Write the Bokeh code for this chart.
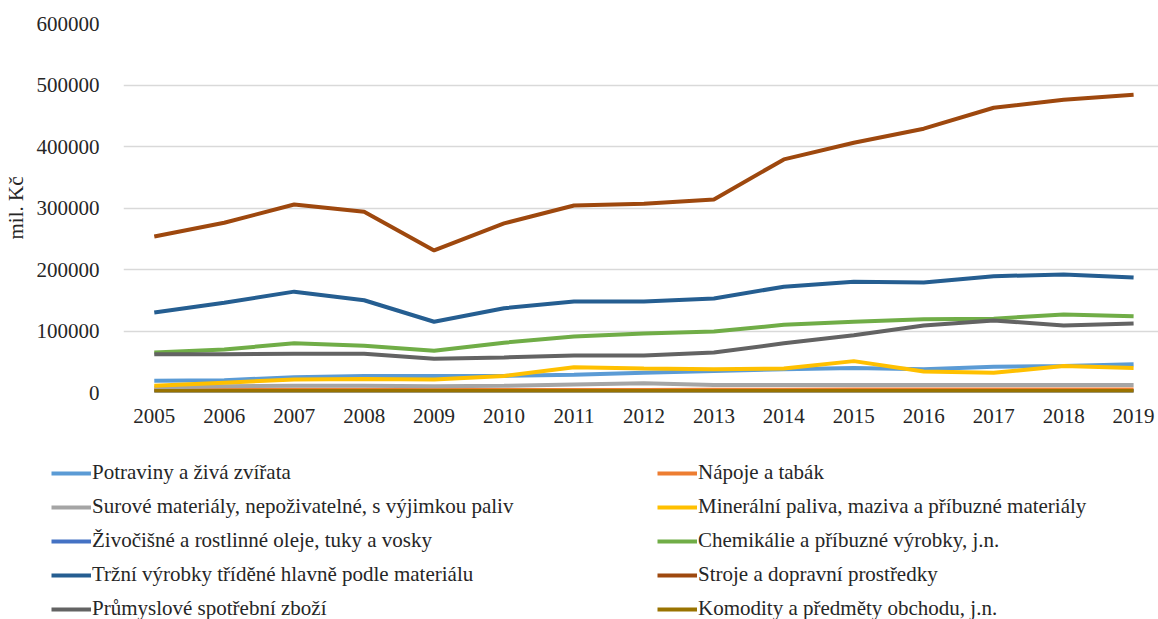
from bokeh.plotting import figure
from bokeh.layouts import column
from bokeh.models import Range1d, FixedTicker, NumeralTickFormatter, Legend, LegendItem
from bokeh.embed import file_html
from bokeh.resources import INLINE

years = [2005, 2006, 2007, 2008, 2009, 2010, 2011, 2012, 2013, 2014, 2015, 2016, 2017, 2018, 2019]

potraviny = [19000, 20000, 25000, 27000, 27000, 27000, 29000, 32000, 35000, 38000, 40000, 38000, 42000, 43000, 46000]
napoje = [4000, 4000, 4500, 4500, 4000, 4000, 4000, 4000, 4500, 4500, 5000, 5000, 5000, 5000, 5000]
surove = [8000, 10000, 11000, 11000, 10000, 11000, 13000, 15000, 12000, 12000, 12000, 12000, 12000, 12000, 12000]
mineralni = [11000, 16000, 21000, 22000, 21000, 27000, 41000, 39000, 38000, 39000, 51000, 34000, 32000, 43000, 40000]
zivocisne = [1500, 1500, 1500, 2000, 1500, 1500, 2000, 2000, 2000, 2000, 2000, 2000, 2000, 2000, 2000]
chemikalie = [65000, 70000, 80000, 76000, 68000, 81000, 91000, 96000, 99000, 110000, 115000, 119000, 120000, 127000, 124000]
trzni = [130000, 146000, 164000, 150000, 115000, 137000, 148000, 148000, 153000, 172000, 180000, 179000, 189000, 192000, 187000]
stroje = [253700, 276000, 305700, 294000, 231000, 275000, 304000, 307000, 314000, 379000, 406000, 429000, 463000, 476000, 484000]
prumyslove = [62000, 62000, 63000, 63000, 55000, 57000, 60000, 60000, 65000, 80000, 93000, 109000, 117000, 109000, 112000]
komodity = [2500, 2500, 2500, 2500, 2500, 2500, 2500, 2500, 2500, 2500, 2500, 2500, 2500, 2500, 2500]

names = [
    "Potraviny a živá zvířata",
    "Nápoje a tabák",
    "Surové materiály, nepoživatelné, s výjimkou paliv",
    "Minerální paliva, maziva a příbuzné materiály",
    "Živočišné a rostlinné oleje, tuky a vosky",
    "Chemikálie a příbuzné výrobky, j.n.",
    "Tržní výrobky tříděné hlavně podle materiálu",
    "Stroje a dopravní prostředky",
    "Průmyslové spotřební zboží",
    "Komodity a předměty obchodu, j.n.",
]
series = [potraviny, napoje, surove, mineralni, zivocisne, chemikalie, trzni, stroje, prumyslove, komodity]
colors = ["#5B9BD5", "#ED7D31", "#A5A5A5", "#FFC000", "#4472C4",
          "#70AD47", "#255E91", "#9E480E", "#636363", "#997300"]

y_ticks = [0, 100000, 200000, 300000, 400000, 500000, 600000]

FONT = "Liberation Serif"
FS = "21px"
TXT = "#262626"

# --- main chart ---
p = figure(width=1158, height=430, output_backend="svg", toolbar_location=None,
           x_range=Range1d(2004.56, 2019.356), y_range=Range1d(0, 600000),
           min_border_left=118, min_border_right=0, min_border_top=23, min_border_bottom=38)
p.frame_align = False
p.outline_line_color = None
p.background_fill_color = "white"
p.border_fill_color = "white"

p.xaxis.ticker = FixedTicker(ticks=years)
p.yaxis.ticker = FixedTicker(ticks=y_ticks)
p.yaxis.formatter = NumeralTickFormatter(format="0")
for ax in (p.xaxis[0], p.yaxis[0]):
    ax.axis_line_color = None
    ax.major_tick_line_color = None
    ax.minor_tick_line_color = None
    ax.major_label_text_font = FONT
    ax.major_label_text_font_size = FS
    ax.major_label_text_color = TXT
p.xaxis.major_label_standoff = 10
p.yaxis.major_label_standoff = 18
p.yaxis.axis_label = "mil. Kč"
p.yaxis.axis_label_text_font = FONT
p.yaxis.axis_label_text_font_size = FS
p.yaxis.axis_label_text_font_style = "normal"
p.yaxis.axis_label_text_color = TXT
p.yaxis.axis_label_standoff = 6

p.xgrid.grid_line_color = None
p.ygrid.grid_line_color = "#D9D9D9"
p.ygrid.grid_line_width = 1.3
p.ygrid.ticker = FixedTicker(ticks=y_ticks)

for vals, c in zip(series, colors):
    p.line(years, vals, line_color=c, line_width=4)

# --- legend panel (its ranges exclude the data, only the legend shows) ---
lg = figure(width=1158, height=189, output_backend="svg", toolbar_location=None,
            x_range=Range1d(0, 1), y_range=Range1d(0, 1),
            x_axis_type=None, y_axis_type=None,
            min_border_left=0, min_border_right=0, min_border_top=0, min_border_bottom=0)
lg.frame_align = False
lg.outline_line_color = None
lg.xgrid.grid_line_color = None
lg.ygrid.grid_line_color = None
lg.background_fill_color = "white"
lg.border_fill_color = "white"

items = []
for name, vals, c in zip(names, series, colors):
    r = lg.line(years, vals, line_color=c, line_width=4)
    items.append(LegendItem(label=name, renderers=[r]))

legend = Legend(items=items, ncols=2, orientation="horizontal",
                location=(51, -2), padding=0, spacing=9, margin=0,
                glyph_width=40, glyph_height=24, label_height=24,
                label_standoff=1, label_width=556,
                label_text_font=FONT, label_text_font_size=FS,
                label_text_color=TXT,
                border_line_color=None, background_fill_alpha=0)
lg.add_layout(legend, "center")

layout = column(p, lg, spacing=0)
open("out.html", "w").write(file_html(layout, INLINE))
